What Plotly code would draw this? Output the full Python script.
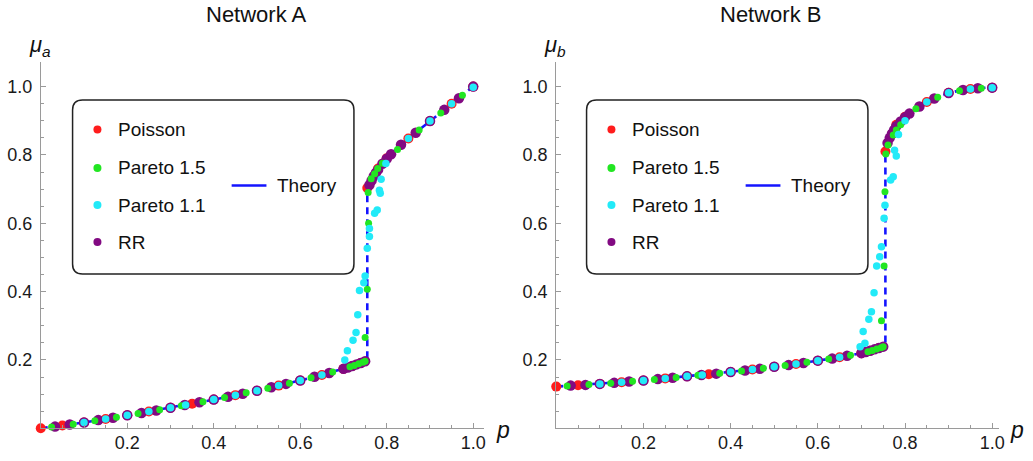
import plotly.graph_objects as go

W, H = 1033, 461

# ---------------- Network A data ----------------
theoryA_p = [0.0, 0.05, 0.1, 0.15, 0.2, 0.25, 0.3, 0.35, 0.4, 0.45, 0.5, 0.55, 0.6, 0.65, 0.7, 0.725, 0.755,
             0.755, 0.76, 0.77, 0.78, 0.79, 0.80, 0.82, 0.85, 0.90, 0.95, 1.0]
theoryA_mu = [0.0, 0.008, 0.017, 0.027, 0.038, 0.049, 0.060, 0.072, 0.084, 0.097, 0.110, 0.125, 0.140, 0.156, 0.174, 0.184, 0.199,
              0.700, 0.718, 0.742, 0.760, 0.776, 0.790, 0.815, 0.848, 0.899, 0.950, 1.0]

poissonA_p = [0.0, 0.05, 0.1, 0.15, 0.2, 0.25, 0.3, 0.35, 0.4, 0.45, 0.5, 0.55, 0.6, 0.65, 0.7, 0.72, 0.74,
              0.755, 0.78, 0.8, 0.85, 0.9, 0.95, 1.0]
poissonA_mu = [0.0, 0.008, 0.017, 0.027, 0.038, 0.049, 0.060, 0.072, 0.084, 0.097, 0.110, 0.125, 0.140, 0.156, 0.174, 0.182, 0.191,
               0.703, 0.760, 0.790, 0.848, 0.899, 0.950, 1.0]

rrA_p = [0.033, 0.067, 0.1, 0.133, 0.167, 0.2, 0.233, 0.267, 0.3, 0.333, 0.367, 0.4, 0.433, 0.467, 0.5, 0.533, 0.567,
         0.6, 0.633, 0.667, 0.7, 0.71, 0.72, 0.73, 0.74, 0.75,
         0.76, 0.765, 0.77, 0.775, 0.78, 0.79, 0.80, 0.81, 0.833, 0.867, 0.9, 0.933, 0.967, 1.0]
rrA_mu = [0.005, 0.011, 0.017, 0.024, 0.031, 0.038, 0.045, 0.052, 0.060, 0.068, 0.076, 0.084, 0.092, 0.101, 0.110, 0.120, 0.130,
          0.140, 0.151, 0.162, 0.174, 0.178, 0.182, 0.187, 0.191, 0.196,
          0.712, 0.725, 0.738, 0.748, 0.757, 0.774, 0.789, 0.802, 0.830, 0.865, 0.899, 0.932, 0.966, 1.0]

p15A_p = [0.025, 0.075, 0.125, 0.175, 0.225, 0.275, 0.325, 0.375, 0.425, 0.475, 0.525, 0.575, 0.625, 0.675,
          0.715, 0.725, 0.735, 0.745, 0.75,
          0.75, 0.755, 0.758,
          0.757, 0.764, 0.772, 0.779, 0.79, 0.825, 0.875, 0.925, 0.975]
p15A_mu = [0.004, 0.012, 0.022, 0.032, 0.043, 0.054, 0.066, 0.078, 0.090, 0.104, 0.117, 0.132, 0.148, 0.165,
           0.180, 0.184, 0.189, 0.193, 0.196,
           0.266, 0.407, 0.600,
           0.690, 0.730, 0.745, 0.760, 0.776, 0.816, 0.873, 0.923, 0.975]

p11A_p = [0.1, 0.15, 0.2, 0.25, 0.3, 0.335, 0.4, 0.45, 0.5, 0.55, 0.6, 0.65,
          0.703, 0.709, 0.722, 0.729, 0.733, 0.737, 0.747, 0.750, 0.755, 0.760, 0.760, 0.772, 0.778, 0.785, 0.783, 0.787,
          0.798, 0.85, 0.9, 0.95, 1.0]
p11A_mu = [0.017, 0.027, 0.038, 0.049, 0.060, 0.068, 0.084, 0.097, 0.110, 0.125, 0.140, 0.156,
           0.200, 0.227, 0.258, 0.280, 0.332, 0.403, 0.426, 0.446, 0.527, 0.561, 0.585, 0.629, 0.639, 0.688, 0.697, 0.729,
           0.775, 0.848, 0.899, 0.950, 0.998]

# ---------------- Network B data ----------------
theoryB_p = [0.0, 0.05, 0.1, 0.15, 0.2, 0.25, 0.3, 0.35, 0.4, 0.45, 0.5, 0.55, 0.6, 0.65, 0.7, 0.725, 0.755,
             0.755, 0.76, 0.77, 0.78, 0.79, 0.80, 0.82, 0.85, 0.88, 0.90, 0.93, 0.96, 1.0]
theoryB_mu = [0.122, 0.126, 0.130, 0.135, 0.140, 0.146, 0.152, 0.158, 0.165, 0.172, 0.180, 0.188, 0.198, 0.208, 0.220, 0.229, 0.240,
              0.807, 0.840, 0.866, 0.885, 0.900, 0.912, 0.930, 0.955, 0.972, 0.981, 0.990, 0.995, 0.998]

poissonB_p = [0.0, 0.05, 0.1, 0.15, 0.2, 0.25, 0.3, 0.35, 0.4, 0.45, 0.5, 0.55, 0.6, 0.65, 0.7, 0.72, 0.74,
              0.755, 0.78, 0.8, 0.85, 0.9, 0.95, 1.0]
poissonB_mu = [0.122, 0.126, 0.130, 0.135, 0.140, 0.146, 0.152, 0.158, 0.165, 0.172, 0.180, 0.188, 0.198, 0.208, 0.220, 0.227, 0.235,
               0.810, 0.888, 0.912, 0.955, 0.982, 0.993, 0.997]

rrB_p = [0.033, 0.067, 0.1, 0.133, 0.167, 0.2, 0.233, 0.267, 0.3, 0.333, 0.367, 0.4, 0.433, 0.467, 0.5, 0.533, 0.567,
         0.6, 0.633, 0.667, 0.7, 0.71, 0.72, 0.73, 0.74, 0.75,
         0.76, 0.765, 0.77, 0.775, 0.78, 0.79, 0.80, 0.81, 0.833, 0.867, 0.9, 0.933, 0.967, 1.0]
rrB_mu = [0.125, 0.127, 0.130, 0.133, 0.137, 0.140, 0.144, 0.148, 0.152, 0.156, 0.160, 0.165, 0.169, 0.174, 0.180, 0.185, 0.191,
          0.198, 0.204, 0.212, 0.220, 0.223, 0.227, 0.231, 0.235, 0.239,
          0.835, 0.850, 0.862, 0.873, 0.884, 0.898, 0.910, 0.921, 0.942, 0.965, 0.981, 0.990, 0.995, 0.997]

p15B_p = [0.025, 0.075, 0.125, 0.175, 0.225, 0.275, 0.325, 0.375, 0.425, 0.475, 0.525, 0.575, 0.625, 0.675,
          0.715, 0.725, 0.735, 0.745, 0.75,
          0.746, 0.752, 0.754,
          0.756, 0.761, 0.773, 0.78, 0.79, 0.825, 0.875, 0.925, 0.975]
p15B_mu = [0.124, 0.128, 0.132, 0.138, 0.143, 0.149, 0.155, 0.161, 0.168, 0.176, 0.184, 0.193, 0.203, 0.214,
           0.224, 0.228, 0.232, 0.236, 0.239,
           0.315, 0.475, 0.692,
           0.803, 0.829, 0.858, 0.873, 0.888, 0.935, 0.969, 0.988, 0.995]

p11B_p = [0.1, 0.15, 0.2, 0.25, 0.3, 0.335, 0.4, 0.45, 0.5, 0.55, 0.6, 0.65,
          0.697, 0.704, 0.708, 0.717, 0.723, 0.729, 0.735, 0.742, 0.746, 0.752, 0.754, 0.767, 0.773, 0.776, 0.780, 0.785,
          0.80, 0.85, 0.9, 0.95, 1.0]
p11B_mu = [0.130, 0.135, 0.140, 0.146, 0.152, 0.156, 0.165, 0.172, 0.180, 0.188, 0.198, 0.208,
           0.239, 0.283, 0.249, 0.319, 0.341, 0.397, 0.475, 0.502, 0.531, 0.615, 0.653, 0.727, 0.736, 0.814, 0.797, 0.860,
           0.900, 0.955, 0.982, 0.993, 0.997]

titles = ["Network A", "Network B"]
ylabels = ["<i>μ</i><sub><i>a</i></sub>", "<i>μ</i><sub><i>b</i></sub>"]
series_names = ["Poisson", "Pareto 1.5", "Pareto 1.1", "RR"]
tick_vals = [0.2, 0.4, 0.6, 0.8, 1.0]
tick_text = ["0.2", "0.4", "0.6", "0.8", "1.0"]
minor_vals = [0.05, 0.1, 0.15, 0.25, 0.3, 0.35, 0.45, 0.5, 0.55, 0.65, 0.7, 0.75, 0.85, 0.9, 0.95]

# ---------------- styling ----------------
FONT = "Liberation Sans, Arial, sans-serif"
C_RED = "#ff1c1c"
C_GREEN = "#22e622"
C_CYAN = "#22eaf8"
C_PURPLE = "#820a82"
C_BLUE = "#1414ff"
AXC = "#9a9a9a"

fig = go.Figure()

panels = [
    dict(xa="x", ya="y", th=(theoryA_p, theoryA_mu), po=(poissonA_p, poissonA_mu), rr=(rrA_p, rrA_mu),
         g=(p15A_p, p15A_mu), c=(p11A_p, p11A_mu)),
    dict(xa="x2", ya="y2", th=(theoryB_p, theoryB_mu), po=(poissonB_p, poissonB_mu), rr=(rrB_p, rrB_mu),
         g=(p15B_p, p15B_mu), c=(p11B_p, p11B_mu)),
]

for pn in panels:
    fig.add_trace(go.Scatter(x=pn["th"][0], y=pn["th"][1], mode="lines", xaxis=pn["xa"], yaxis=pn["ya"],
                             line=dict(color=C_BLUE, width=2.6, dash="7px,5px"), name="Theory",
                             showlegend=False, cliponaxis=False))
    fig.add_trace(go.Scatter(x=pn["po"][0], y=pn["po"][1], mode="markers", xaxis=pn["xa"], yaxis=pn["ya"],
                             marker=dict(color=C_RED, size=10), name="Poisson", showlegend=False, cliponaxis=False))
    fig.add_trace(go.Scatter(x=pn["rr"][0], y=pn["rr"][1], mode="markers", xaxis=pn["xa"], yaxis=pn["ya"],
                             marker=dict(color=C_PURPLE, size=10.5), name="RR", showlegend=False, cliponaxis=False))
    fig.add_trace(go.Scatter(x=pn["g"][0], y=pn["g"][1], mode="markers", xaxis=pn["xa"], yaxis=pn["ya"],
                             marker=dict(color=C_GREEN, size=7), name="Pareto 1.5", showlegend=False, cliponaxis=False))
    fig.add_trace(go.Scatter(x=pn["c"][0], y=pn["c"][1], mode="markers", xaxis=pn["xa"], yaxis=pn["ya"],
                             marker=dict(color=C_CYAN, size=7.5), name="Pareto 1.1", showlegend=False, cliponaxis=False))


def px(x):
    return x / W


def py(y):
    return 1 - y / H


def axis_common(standoff):
    return dict(showline=True, linecolor=AXC, linewidth=1, showgrid=False, zeroline=False,
                ticks="inside", ticklen=5, tickcolor=AXC, tickwidth=1,
                tickmode="array", tickvals=tick_vals, ticktext=tick_text,
                ticklabelstandoff=standoff,
                tickfont=dict(family=FONT, size=18, color="#1a1a1a"),
                minor=dict(ticks="inside", ticklen=3, tickcolor=AXC, tickmode="array", tickvals=minor_vals),
                fixedrange=True)


y0_px, ytop_px = 428.3, 62
yrange = [0, (y0_px - ytop_px) / 341.7]
ydom = [py(y0_px), py(ytop_px)]

fig.update_layout(
    width=W, height=H,
    margin=dict(l=0, r=0, t=0, b=0),
    paper_bgcolor="white", plot_bgcolor="rgba(0,0,0,0)",
    showlegend=False,
    xaxis=dict(domain=[px(41), px(487)], range=[0, (487 - 41) / 435], anchor="y", **axis_common(-2)),
    yaxis=dict(domain=ydom, range=yrange, anchor="x", **axis_common(4)),
    xaxis2=dict(domain=[px(559.5), px(1005)], range=[0, (1005 - 559.5) / 438.5], anchor="y2", **axis_common(-2)),
    yaxis2=dict(domain=ydom, range=yrange, anchor="x2", **axis_common(4)),
)

annotations = []
shapes = []


def rounded_rect(x0, y0, x1, y1, r):
    # pixel coords -> paper path
    rx, ry = r / W, r / H
    X0, X1 = px(x0), px(x1)
    Y0, Y1 = py(y1), py(y0)  # bottom, top in paper
    return (f"M {X0+rx},{Y0} L {X1-rx},{Y0} Q {X1},{Y0} {X1},{Y0+ry} "
            f"L {X1},{Y1-ry} Q {X1},{Y1} {X1-rx},{Y1} L {X0+rx},{Y1} Q {X0},{Y1} {X0},{Y1-ry} "
            f"L {X0},{Y0+ry} Q {X0},{Y0} {X0+rx},{Y0} Z")


legend_colors = [C_RED, C_GREEN, C_CYAN, C_PURPLE]
row_y = [129.5, 168, 205, 242]

for i, off in enumerate([0, 517]):
    annotations.append(dict(text=titles[i], x=px(258 + off), y=py(14), xref="paper", yref="paper",
                            showarrow=False, xanchor="center", yanchor="middle",
                            font=dict(family=FONT, size=22, color="#111")))
    annotations.append(dict(text=ylabels[i], x=px(40 + off + (1 if i else 0)), y=py(46), xref="paper", yref="paper",
                            showarrow=False, xanchor="center", yanchor="middle",
                            font=dict(family=FONT, size=22, color="#111")))
    annotations.append(dict(text="<i>p</i>", x=px(506 + off), y=py(430), xref="paper", yref="paper",
                            showarrow=False, xanchor="center", yanchor="middle",
                            font=dict(family=FONT, size=23, color="#111")))
    shapes.append(dict(type="path", path=rounded_rect(73 + off, 100, 356 + off, 274, 10), xref="paper", yref="paper",
                       line=dict(color="#222", width=1.5), fillcolor="rgba(255,255,255,0)", layer="below"))
    for name, col, yy in zip(series_names, legend_colors, row_y):
        shapes.append(dict(type="circle", xref="paper", yref="paper", xsizemode="pixel", ysizemode="pixel",
                           xanchor=px(98 + off), yanchor=py(yy), x0=-4, x1=4, y0=-4, y1=4,
                           fillcolor=col, line=dict(width=0)))
        annotations.append(dict(text=name, x=px(117 + off), y=py(yy), xref="paper", yref="paper",
                                showarrow=False, xanchor="left", yanchor="middle",
                                font=dict(family=FONT, size=19, color="#111")))
    shapes.append(dict(type="line", xref="paper", yref="paper", x0=px(233 + off), x1=px(268 + off),
                       y0=py(185.5), y1=py(185.5), line=dict(color=C_BLUE, width=2.6)))
    annotations.append(dict(text="Theory", x=px(277 + off), y=py(185.5), xref="paper", yref="paper",
                            showarrow=False, xanchor="left", yanchor="middle",
                            font=dict(family=FONT, size=19, color="#111")))

fig.update_layout(annotations=annotations, shapes=shapes)

# remove the default page margin so the figure sits at the window's top-left corner
fig.write_html("out.html", config={"displayModeBar": False},
               post_script="document.body.style.margin='0';")
